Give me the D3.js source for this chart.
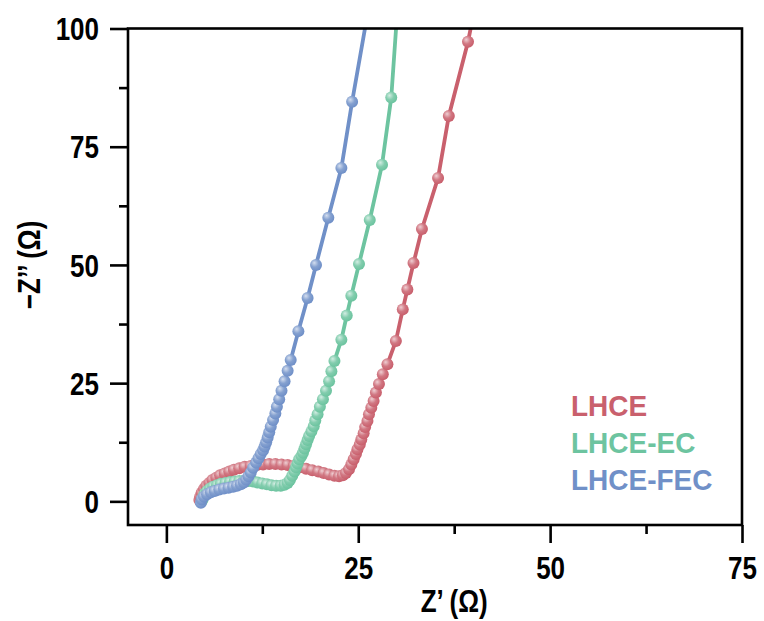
<!DOCTYPE html>
<html>
<head>
<meta charset="utf-8">
<script src="https://cdn.jsdelivr.net/npm/d3@7/dist/d3.min.js"></script>
<style>
  body { margin: 0; background: #fff; }
  text { font-family: "Liberation Sans", Arial, sans-serif; font-weight: bold; }
</style>
</head>
<body>
<script>
// Nyquist data: [Z', -Z'']
var seriesNames = ["LHCE", "LHCE-EC", "LHCE-FEC"];
var seriesColors = ["#c9606d", "#6dc4a0", "#7090c8"];

var lhce = [
  [4.3,0.3],[4.4,1.0],[4.6,1.8],[4.9,2.6],[5.2,3.3],[5.6,3.9],[6.0,4.5],[6.5,5.0],
  [7.0,5.5],[7.6,5.9],[8.2,6.3],[8.8,6.7],[9.5,7.0],[10.2,7.3],[11.0,7.5],[11.8,7.7],
  [12.6,7.8],[13.4,7.9],[14.2,7.9],[15.0,7.8],[15.8,7.7],[16.6,7.5],[17.4,7.2],[18.2,6.9],
  [19.0,6.6],[19.8,6.3],[20.5,6.0],[21.2,5.7],[21.9,5.4],[22.5,5.3],[23.0,5.5],[23.4,6.0],
  [23.8,6.8],[24.1,7.8],[24.4,8.9],[24.7,10.0],[24.9,11.0],[25.2,12.0],[25.4,13.1],[25.7,14.4],
  [25.9,15.7],[26.2,17.0],[26.4,18.4],[26.7,19.8],[27.0,21.2],[27.3,23.0],[27.7,24.8],[28.2,26.9],
  [28.8,29.0],[29.9,33.9],[30.8,40.6],[31.4,44.8],[32.2,50.4],[33.3,57.6],[35.4,68.4],[36.8,81.5],
  [39.3,97.2],[41.5,115]
];
var lhceEc = [
  [4.7,0.3],[4.8,1.0],[5.0,1.6],[5.3,2.2],[5.7,2.7],[6.1,3.1],[6.6,3.4],[7.1,3.7],
  [7.7,3.9],[8.3,4.1],[8.9,4.2],[9.5,4.3],[10.1,4.3],[10.7,4.3],[11.3,4.2],[11.9,4.0],
  [12.5,3.8],[13.1,3.6],[13.7,3.4],[14.3,3.3],[14.9,3.3],[15.4,3.5],[15.8,3.9],[16.1,4.5],
  [16.4,5.4],[16.7,6.3],[16.9,7.2],[17.1,8.0],[17.3,8.9],[17.6,9.6],[17.8,10.3],[18.0,11.2],
  [18.2,12.1],[18.4,13.0],[18.6,13.8],[18.9,14.8],[19.2,15.9],[19.4,17.1],[19.7,18.4],[20.0,20.0],
  [20.4,21.6],[20.8,23.4],[21.2,25.4],[21.5,27.5],[21.9,29.7],[22.8,34.2],[23.5,39.3],[24.1,43.5],
  [25.1,50.2],[26.5,59.5],[28.1,71.2],[29.3,85.4],[31.0,125]
];
var lhceFec = [
  [4.5,-0.3],[4.6,0.4],[4.9,1.0],[5.3,1.5],[5.8,1.9],[6.3,2.2],[6.9,2.5],[7.5,2.7],
  [8.1,2.9],[8.7,3.1],[9.2,3.3],[9.7,3.6],[10.1,4.0],[10.4,4.6],[10.7,5.3],[11.0,6.1],
  [11.3,7.1],[11.7,8.2],[12.0,9.1],[12.3,10.0],[12.6,10.8],[12.8,11.6],[13.0,12.5],[13.2,13.5],
  [13.4,14.6],[13.6,15.8],[13.9,17.2],[14.2,18.6],[14.4,20.0],[14.7,21.6],[15.0,23.4],[15.4,25.4],
  [15.8,27.6],[16.2,29.9],[17.2,36.0],[18.4,43.0],[19.5,50.0],[21.1,60.0],[22.8,70.5],[24.2,84.5],
  [27.5,115]
];
var allSeries = [lhce, lhceEc, lhceFec];

var xTicks = [0, 25, 50, 75];
var yTicks = [0, 25, 50, 75, 100];
var xMinor = [12.5, 37.5, 62.5];
var yMinor = [12.5, 37.5, 62.5, 87.5];

var W = 764, H = 621;
var pLeft = 128, pRight = 742, pTop = 28.5, pBottom = 525;
var stretch = 1.2;   // the original text is drawn taller than normal

var svg = d3.select("body").append("svg")
    .attr("width", W)
    .attr("height", H);

var x = d3.scaleLinear().domain([-5, 75]).range([pLeft, pRight]);
var y = d3.scaleLinear().domain([-5, 100]).range([pBottom, pTop]);

var defs = svg.append("defs");
defs.append("clipPath").attr("id", "plotclip")
  .append("rect")
    .attr("x", pLeft).attr("y", pTop)
    .attr("width", pRight - pLeft).attr("height", pBottom - pTop);

seriesColors.forEach(function(c, i){
    var g = defs.append("radialGradient").attr("id", "ball" + i)
        .attr("cx", "40%").attr("cy", "38%").attr("r", "60%")
        .attr("fx", "35%").attr("fy", "32%");
    g.append("stop").attr("offset", "0%").attr("stop-color", d3.interpolateRgb(c, "#fff")(0.7));
    g.append("stop").attr("offset", "55%").attr("stop-color", d3.interpolateRgb(c, "#fff")(0.15));
    g.append("stop").attr("offset", "100%").attr("stop-color", c);
});

// data
var plot = svg.append("g").attr("clip-path", "url(#plotclip)");
var line = d3.line().x(function(d){return x(d[0])}).y(function(d){return y(d[1])});

allSeries.forEach(function(data, i){
    var g = plot.append("g");
    g.append("path")
        .datum(data)
        .attr("d", line)
        .attr("fill", "none")
        .attr("stroke", seriesColors[i])
        .attr("stroke-width", 3.8);
    g.selectAll("circle")
        .data(data)
        .enter().append("circle")
        .attr("cx", function(d){return x(d[0])})
        .attr("cy", function(d){return y(d[1])})
        .attr("r", 6)
        .attr("fill", "url(#ball" + i + ")");
});

// frame
svg.append("rect")
    .attr("x", pLeft).attr("y", pTop)
    .attr("width", pRight - pLeft).attr("height", pBottom - pTop)
    .attr("fill", "none")
    .attr("stroke", "#000")
    .attr("stroke-width", 2.6);

// x axis
var xAxis = d3.axisBottom(x).tickValues(xTicks).tickSize(18).tickPadding(8.5).tickFormat(d3.format("d"));
var gx = svg.append("g").attr("transform", "translate(0," + pBottom + ")").call(xAxis);
gx.select(".domain").remove();
gx.selectAll("line").attr("stroke-width", 2.6);
gx.selectAll("text").style("font-size", "26px").attr("fill", "#000")
    .attr("transform", "scale(1," + stretch + ")");
var gxm = svg.append("g").attr("transform", "translate(0," + pBottom + ")")
    .call(d3.axisBottom(x).tickValues(xMinor).tickSize(9).tickFormat(""));
gxm.select(".domain").remove();
gxm.selectAll("line").attr("stroke-width", 2.6);

// y axis
var yAxis = d3.axisLeft(y).tickValues(yTicks).tickSize(18).tickPadding(11).tickFormat(d3.format("d"));
var gy = svg.append("g").attr("transform", "translate(" + pLeft + ",0)").call(yAxis);
gy.select(".domain").remove();
gy.selectAll("line").attr("stroke-width", 2.6);
gy.selectAll("text").style("font-size", "26px").attr("fill", "#000").attr("dy", "0.36em")
    .attr("transform", "scale(1," + stretch + ")");
var gym = svg.append("g").attr("transform", "translate(" + pLeft + ",0)")
    .call(d3.axisLeft(y).tickValues(yMinor).tickSize(9).tickFormat(""));
gym.select(".domain").remove();
gym.selectAll("line").attr("stroke-width", 2.6);

// axis titles
svg.append("text")
    .attr("transform", "translate(" + x(37.5) + ",612) scale(1," + stretch + ")")
    .attr("text-anchor", "middle")
    .style("font-size", "26px")
    .text("Z\u2019 (\u03A9)");
svg.append("text")
    .attr("transform", "translate(40," + y(50) + ") rotate(-90) scale(1," + stretch + ")")
    .attr("text-anchor", "middle")
    .style("font-size", "26px")
    .text("\u2212Z\u2019\u2019 (\u03A9)");

// legend
var legendY = [416, 453, 490];
seriesNames.forEach(function(n, i){
    svg.append("text")
        .attr("transform", "translate(571," + legendY[i] + ") scale(1,1.08)")
        .style("font-size", "28px")
        .attr("fill", seriesColors[i])
        .text(n);
});
</script>
</body>
</html>
